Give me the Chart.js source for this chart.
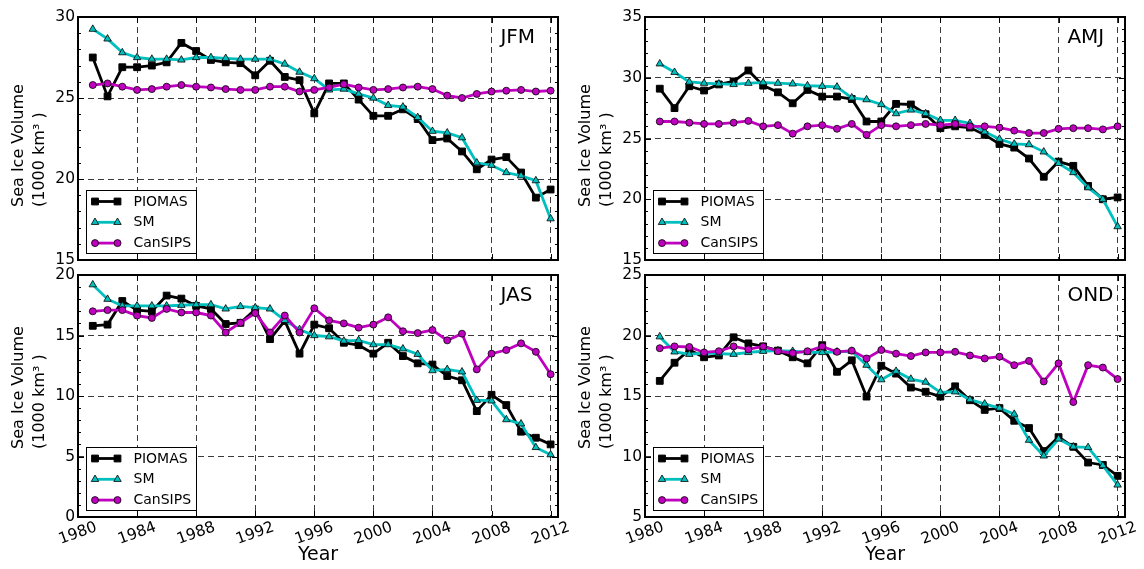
<!DOCTYPE html>
<html>
<head>
<meta charset="utf-8">
<title>Sea Ice Volume</title>
<script src="https://cdn.jsdelivr.net/npm/chart.js@4/dist/chart.umd.min.js"></script>
<style>
  html, body { margin: 0; padding: 0; background: #fff; }
  #wrap { position: relative; width: 1144px; height: 569px; overflow: hidden; }
  #wrap canvas { position: absolute; left: 0; top: 0; }
</style>
</head>
<body>
<div id="wrap">
  <canvas id="c0" width="1144" height="569"></canvas>
  <canvas id="c1" width="1144" height="569"></canvas>
  <canvas id="c2" width="1144" height="569"></canvas>
  <canvas id="c3" width="1144" height="569"></canvas>
</div>
<script>
// ---- data -------------------------------------------------------------
const years = [1981, 1982, 1983, 1984, 1985, 1986, 1987, 1988, 1989, 1990,
               1991, 1992, 1993, 1994, 1995, 1996, 1997, 1998, 1999, 2000,
               2001, 2002, 2003, 2004, 2005, 2006, 2007, 2008, 2009, 2010,
               2011, 2012];
const yearTicks = [1980, 1984, 1988, 1992, 1996, 2000, 2004, 2008, 2012];
const seriesNames = ['PIOMAS', 'SM', 'CanSIPS'];

// January-February-March
const jfmPiomas = [27.5, 25.1, 26.9, 26.9, 27.0, 27.2, 28.4, 27.9, 27.35, 27.2,
                   27.15, 26.4, 27.3, 26.3, 26.1, 24.05, 25.9, 25.9, 24.9, 23.9,
                   23.9, 24.3, 23.7, 22.4, 22.5, 21.7, 20.6, 21.2, 21.35, 20.4,
                   18.85, 19.35];
const jfmSm     = [29.25, 28.65, 27.8, 27.5, 27.4, 27.4, 27.35, 27.5, 27.5, 27.45,
                   27.4, 27.4, 27.4, 27.1, 26.6, 26.2, 25.5, 25.55, 25.25, 25.0,
                   24.55, 24.45, 23.8, 22.95, 22.85, 22.55, 21.0, 20.85, 20.4, 20.2,
                   19.9, 17.55];
const jfmCansips = [25.8, 25.9, 25.7, 25.5, 25.55, 25.7, 25.8, 25.7, 25.65, 25.55,
                    25.5, 25.5, 25.7, 25.7, 25.4, 25.5, 25.65, 25.85, 25.65, 25.5,
                    25.55, 25.65, 25.7, 25.55, 25.15, 25.0, 25.25, 25.4, 25.45, 25.5,
                    25.4, 25.45];

// April-May-June
const amjPiomas = [29.1, 27.5, 29.3, 28.95, 29.45, 29.7, 30.6, 29.35, 28.8, 27.9,
                   29.0, 28.45, 28.45, 28.25, 26.4, 26.4, 27.85, 27.8, 27.0, 25.85,
                   26.0, 25.9, 25.3, 24.55, 24.25, 23.35, 21.85, 23.1, 22.75, 21.1,
                   20.0, 20.15];
const amjSm     = [31.15, 30.45, 29.65, 29.55, 29.5, 29.45, 29.55, 29.6, 29.55, 29.5,
                   29.35, 29.3, 29.25, 28.35, 28.2, 27.8, 27.05, 27.35, 27.05, 26.5,
                   26.5, 26.25, 25.55, 24.95, 24.55, 24.5, 23.9, 22.95, 22.2, 20.95,
                   20.0, 17.75];
const amjCansips = [26.4, 26.4, 26.3, 26.2, 26.2, 26.3, 26.45, 26.0, 26.1, 25.4,
                    26.0, 26.1, 25.8, 26.2, 25.3, 26.1, 26.0, 26.1, 26.2, 26.1,
                    26.2, 26.0, 26.0, 25.9, 25.65, 25.45, 25.45, 25.8, 25.85, 25.85,
                    25.75, 26.0];

// July-August-September
const jasPiomas = [15.8, 15.9, 17.85, 17.1, 17.0, 18.3, 18.05, 17.45, 17.2, 15.95,
                   16.05, 17.15, 14.7, 16.2, 13.5, 15.9, 15.6, 14.4, 14.2, 13.5,
                   14.4, 13.3, 12.7, 12.6, 11.65, 11.3, 8.75, 10.1, 9.25, 7.05,
                   6.55, 6.0];
const jasSm     = [19.2, 18.0, 17.45, 17.45, 17.45, 17.45, 17.5, 17.55, 17.55, 17.2,
                   17.4, 17.3, 17.2, 16.25, 15.5, 15.0, 14.9, 14.55, 14.6, 14.25,
                   14.25, 13.9, 13.45, 12.1, 12.2, 12.0, 9.65, 9.6, 8.05, 7.7,
                   5.75, 5.15];
const jasCansips = [17.0, 17.1, 17.1, 16.65, 16.45, 17.2, 16.9, 16.9, 16.65, 15.25,
                    16.05, 16.85, 15.25, 16.65, 15.25, 17.25, 16.25, 16.0, 15.65, 15.9,
                    16.5, 15.35, 15.2, 15.45, 14.6, 15.15, 12.2, 13.5, 13.8, 14.35,
                    13.65, 11.8];

// October-November-December
const ondPiomas = [16.25, 17.75, 18.8, 18.2, 18.35, 19.85, 19.35, 19.1, 18.75, 18.2,
                   17.7, 19.2, 17.0, 17.95, 14.95, 17.5, 16.85, 15.7, 15.35, 14.95,
                   15.8, 14.65, 13.85, 14.0, 12.95, 12.35, 10.45, 11.6, 10.8, 9.5,
                   9.3, 8.4];
const ondSm     = [19.9, 18.65, 18.45, 18.55, 18.5, 18.45, 18.6, 18.7, 18.75, 18.7,
                   18.6, 18.6, 18.65, 18.7, 17.55, 16.35, 17.05, 16.4, 16.15, 15.3,
                   15.35, 14.7, 14.35, 14.0, 13.5, 11.35, 10.05, 11.45, 10.8, 10.75,
                   9.25, 7.65];
const ondCansips = [18.95, 19.1, 19.05, 18.6, 18.7, 19.1, 18.85, 19.1, 18.7, 18.55,
                    18.7, 19.1, 18.65, 18.75, 18.1, 18.8, 18.5, 18.3, 18.6, 18.6,
                    18.65, 18.35, 18.1, 18.25, 17.55, 17.9, 16.2, 17.7, 14.5, 17.55,
                    17.35, 16.4];

const jfmTicks = [15, 20, 25, 30];
const amjTicks = [15, 20, 25, 30, 35];
const jasTicks = [0, 5, 10, 15, 20];
const ondTicks = [5, 10, 15, 20, 25];

const yTitleLines = ['Sea Ice Volume', '(1000 km\u00B3 )'];
const xTitle = 'Year';

// ---- styling ----------------------------------------------------------
const FONT = '"DejaVu Sans", "Liberation Sans", sans-serif';
Chart.defaults.font.family = FONT;
Chart.defaults.color = '#000';

const seriesStyle = [
  { line: '#000000', fill: '#000000', shape: 'rect',     radius: 4.8, edge: 1.0 },
  { line: '#00bfbf', fill: '#00bfbf', shape: 'triangle', radius: 4.3, edge: 0.8 },
  { line: '#bf00bf', fill: '#bf00bf', shape: 'circle',   radius: 3.5, edge: 0.8 }
];

// plot-area rectangles [left, top, right, bottom] and the left edge of each panel
const panels = [
  { canvas: 'c0', tag: 'JFM', ox: 0,   area: [78, 17, 558, 260],  lim: [15, 30], yTicks: jfmTicks, series: [jfmPiomas, jfmSm, jfmCansips], xLabels: false, titleBase: 207 },
  { canvas: 'c1', tag: 'AMJ', ox: 567, area: [645, 17, 1125, 260], lim: [15, 35], yTicks: amjTicks, series: [amjPiomas, amjSm, amjCansips], xLabels: false, titleBase: 207 },
  { canvas: 'c2', tag: 'JAS', ox: 0,   area: [78, 275, 558, 517], lim: [0, 20],  yTicks: jasTicks, series: [jasPiomas, jasSm, jasCansips], xLabels: true,  titleBase: 449 },
  { canvas: 'c3', tag: 'OND', ox: 567, area: [645, 275, 1125, 517], lim: [5, 25], yTicks: ondTicks, series: [ondPiomas, ondSm, ondCansips], xLabels: true,  titleBase: 449 }
];

const W = 1144, H = 569;

function marker(ctx, shape, r, x, y) {
  ctx.beginPath();
  if (shape === 'rect') {
    const s = Math.SQRT1_2 * r;
    ctx.rect(x - s, y - s, 2 * s, 2 * s);
  } else if (shape === 'triangle') {
    ctx.moveTo(x, y - r);
    ctx.lineTo(x + r * Math.sin(Math.PI * 2 / 3), y - r * Math.cos(Math.PI * 2 / 3));
    ctx.lineTo(x + r * Math.sin(Math.PI * 4 / 3), y - r * Math.cos(Math.PI * 4 / 3));
    ctx.closePath();
  } else {
    ctx.arc(x, y, r, 0, Math.PI * 2);
  }
  ctx.fill();
  ctx.stroke();
}

// frame, inward ticks, panel tag, y title and legend
const decor = {
  id: 'decor',
  afterDraw(chart, args, o) {
    const ctx = chart.ctx, a = chart.chartArea;
    const xs = chart.scales.x, ys = chart.scales.y;
    ctx.save();

    // inward tick marks on all four sides
    ctx.strokeStyle = '#000';
    ctx.lineWidth = 1;
    ctx.beginPath();
    yearTicks.forEach(v => {
      const px = Math.round(xs.getPixelForValue(v)) + 0.5;
      ctx.moveTo(px, a.bottom); ctx.lineTo(px, a.bottom - 6);
      ctx.moveTo(px, a.top);    ctx.lineTo(px, a.top + 6);
    });
    for (let v = ys.min; v <= ys.max; v += 1) {
      const py = Math.round(ys.getPixelForValue(v)) + 0.5;
      const len = o.yTicks.includes(v) ? 6 : 3;
      ctx.moveTo(a.left, py);  ctx.lineTo(a.left + len, py);
      ctx.moveTo(a.right, py); ctx.lineTo(a.right - len, py);
    }
    ctx.stroke();

    // legend box in the lower-left corner
    const bw = 110, bh = 63;
    const bx = Math.round(a.left + 7.5) + 0.5, by = Math.round(a.bottom - 7 - bh) + 0.5;
    ctx.fillStyle = '#fff';
    ctx.fillRect(bx, by, bw, bh);
    ctx.strokeStyle = '#000';
    ctx.lineWidth = 1;
    ctx.strokeRect(bx, by, bw, bh);
    chart.data.datasets.forEach((ds, i) => {
      const st = seriesStyle[i];
      const yy = by + 11 + i * 20.8;
      const x1 = bx + 8.5, x2 = bx + 31;
      ctx.strokeStyle = st.line;
      ctx.lineWidth = ds.borderWidth;
      ctx.beginPath(); ctx.moveTo(x1, yy); ctx.lineTo(x2, yy); ctx.stroke();
      ctx.fillStyle = st.fill;
      ctx.strokeStyle = '#000';
      ctx.lineWidth = st.edge;
      marker(ctx, st.shape, st.radius, x1, yy);
      marker(ctx, st.shape, st.radius, x2, yy);
      ctx.fillStyle = '#000';
      ctx.font = '14px ' + FONT;
      ctx.textAlign = 'left';
      ctx.textBaseline = 'middle';
      ctx.fillText(ds.label, bx + 47, yy + 0.5);
    });

    // panel tag
    ctx.fillStyle = '#000';
    ctx.font = '20px ' + FONT;
    ctx.textAlign = 'left';
    ctx.textBaseline = 'alphabetic';
    ctx.fillText(o.tag, a.left + 0.88 * (a.right - a.left), a.top + 25.5);

    // y-axis title, two rotated lines
    ctx.save();
    ctx.translate(o.ox + 18.5, o.titleBase);
    ctx.rotate(-Math.PI / 2);
    ctx.font = '16px ' + FONT;
    ctx.textAlign = 'left';
    ctx.textBaseline = 'middle';
    ctx.fillText(yTitleLines[0], 0, 0);
    ctx.fillText(yTitleLines[1], 0, 21.7);
    ctx.restore();

    // frame
    ctx.strokeStyle = '#000';
    ctx.lineWidth = 2;
    ctx.strokeRect(a.left, a.top, a.right - a.left, a.bottom - a.top);
    ctx.restore();
  }
};

panels.forEach(p => {
  const [L, T, R, B] = p.area;
  const datasets = seriesNames.map((name, i) => {
    const st = seriesStyle[i];
    return {
      label: name,
      data: years.map((yr, k) => ({ x: yr, y: p.series[i][k] })),
      borderColor: st.line,
      borderWidth: 2.8,
      pointStyle: st.shape,
      pointRadius: st.radius,
      pointBackgroundColor: st.fill,
      pointBorderColor: '#000',
      pointBorderWidth: st.edge,
      pointHoverRadius: st.radius,
      tension: 0,
      fill: false,
      order: 3 - i
    };
  });

  const gridStyle = { color: '#3a3a3a', lineWidth: 1, drawTicks: false };

  new Chart(document.getElementById(p.canvas), {
    type: 'line',
    data: { datasets },
    options: {
      responsive: false,
      animation: false,
      devicePixelRatio: 1,
      events: [],
      layout: { padding: { left: p.ox, top: T, right: W - R, bottom: p.xLabels ? 0 : H - B } },
      plugins: {
        legend: { display: false },
        tooltip: { enabled: false },
        decor: { tag: p.tag, ox: p.ox, yTicks: p.yTicks, titleBase: p.titleBase }
      },
      scales: {
        x: {
          type: 'linear',
          min: 1980,
          max: 2012.5,
          afterBuildTicks: s => { s.ticks = yearTicks.map(v => ({ value: v })); },
          afterFit: s => { s.height = p.xLabels ? H - B : 0; },
          grid: gridStyle,
          border: { display: false, dash: [6, 4] },
          ticks: {
            display: p.xLabels,
            autoSkip: false,
            minRotation: 20,
            maxRotation: 20,
            labelOffset: 18.5,
            padding: 1,
            color: '#000',
            font: { size: 15.5 },
            callback: v => String(v)
          },
          title: {
            display: p.xLabels,
            text: xTitle,
            color: '#000',
            font: { size: 19 },
            padding: { top: 0, bottom: 3 }
          }
        },
        y: {
          type: 'linear',
          min: p.lim[0],
          max: p.lim[1],
          afterBuildTicks: s => { s.ticks = p.yTicks.map(v => ({ value: v })); },
          afterFit: s => { s.width = L - p.ox; },
          grid: gridStyle,
          border: { display: false, dash: [6, 4] },
          ticks: {
            color: '#000',
            padding: 3,
            font: { size: 15.5 },
            callback: v => String(v)
          },
          title: { display: false }
        }
      }
    },
    plugins: [decor]
  });
});
</script>
</body>
</html>
